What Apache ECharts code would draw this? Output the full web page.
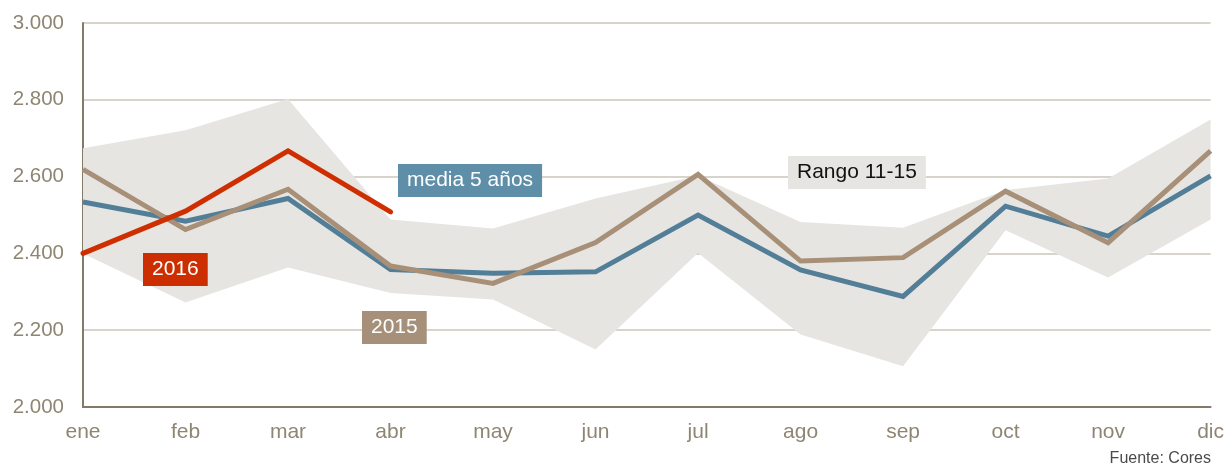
<!DOCTYPE html>
<html>
<head>
<meta charset="utf-8">
<script src="https://cdn.jsdelivr.net/npm/echarts@6/dist/echarts.min.js"></script>
<style>
  html, body { margin: 0; padding: 0; background: #fff; }
  #chart { width: 1227px; height: 468px; }
</style>
</head>
<body>
<div id="chart"></div>
<script>
// meses
var months = ['ene', 'feb', 'mar', 'abr', 'may', 'jun', 'jul', 'ago', 'sep', 'oct', 'nov', 'dic'];

// rango 2011-2015 (mínimo y máximo)
var rangeLow  = [2400, 2272, 2363, 2297, 2280, 2150, 2401, 2189, 2106, 2460, 2337, 2488];
var rangeHigh = [2674, 2721, 2802, 2488, 2465, 2543, 2602, 2482, 2467, 2565, 2595, 2749];

// series
var media5 = [2534, 2484, 2543, 2358, 2348, 2352, 2500, 2357, 2288, 2523, 2445, 2602];
var y2015  = [2619, 2462, 2567, 2367, 2322, 2428, 2606, 2380, 2389, 2562, 2428, 2667];
var y2016  = [2400, 2510, 2667, 2508];

var yTicks = [2000, 2200, 2400, 2600, 2800, 3000];

var rangeDiff = rangeHigh.map(function (v, i) { return v - rangeLow[i]; });

var font = '"Liberation Sans", Arial, sans-serif';
var axisColor = '#857a68';
var labelColor = '#8f8573';

function fmt(v) {
    return String(v).replace(/\B(?=(\d{3})+(?!\d))/g, '.');
}

// etiqueta con fondo de color
function tag(id, txt, x, y, bg, fg) {
    return {
        type: 'text', id: id, left: x, top: y, z: 100,
        style: {
            text: txt, fill: fg, fontSize: 21, fontFamily: font,
            backgroundColor: bg, padding: [6, 9, 6, 9]
        }
    };
}

var chart = echarts.init(document.getElementById('chart'));

var option = {
    animation: false,
    grid: { left: 83, right: 15, top: 23, bottom: 61 },
    xAxis: {
        type: 'category',
        data: months,
        boundaryGap: false,
        axisLine: { lineStyle: { color: axisColor, width: 2 } },
        axisTick: { show: false },
        axisLabel: { color: labelColor, fontSize: 21, fontFamily: font, margin: 15 },
        splitLine: { show: false }
    },
    yAxis: {
        type: 'value',
        min: yTicks[0],
        max: yTicks[yTicks.length - 1],
        interval: 200,
        axisLine: { show: true, lineStyle: { color: axisColor, width: 2 } },
        axisTick: { show: false },
        axisLabel: { color: labelColor, fontSize: 20.5, fontFamily: font, margin: 19, formatter: fmt },
        splitLine: { lineStyle: { color: '#cdc6ba', width: 1.5 } }
    },
    series: [
        {
            name: 'base',
            type: 'line',
            stack: 'rango',
            data: rangeLow,
            symbol: 'none',
            lineStyle: { opacity: 0 },
            areaStyle: { opacity: 0 },
            silent: true
        },
        {
            name: 'Rango 11-15',
            type: 'line',
            stack: 'rango',
            data: rangeDiff,
            symbol: 'none',
            lineStyle: { opacity: 0 },
            areaStyle: { color: '#e7e5e1', opacity: 1 },
            silent: true
        },
        {
            name: 'media 5 años',
            type: 'line',
            data: media5,
            symbol: 'none',
            lineStyle: { color: '#537e98', width: 5, join: 'miter' }
        },
        {
            name: '2015',
            type: 'line',
            data: y2015,
            symbol: 'none',
            lineStyle: { color: '#a89078', width: 5, join: 'miter' }
        },
        {
            name: '2016',
            type: 'line',
            data: y2016,
            symbol: 'none',
            lineStyle: { color: '#cf2e00', width: 5, join: 'miter', cap: 'round' }
        }
    ],
    graphic: [
        tag('t2016', '2016', 143, 253, '#cc2e00', '#fff'),
        tag('tmedia', 'media 5 años', 398, 164, '#5e8ea8', '#fff'),
        tag('t2015', '2015', 362, 311, '#a69079', '#fff'),
        tag('trango', 'Rango 11-15', 788, 156, '#e7e5e1', '#111'),
        {
            type: 'text', id: 'fuente', right: 16, top: 451,
            style: { text: 'Fuente: Cores', fill: '#4a4a4a', fontSize: 16, fontFamily: font }
        }
    ]
};

chart.setOption(option);
</script>
</body>
</html>
